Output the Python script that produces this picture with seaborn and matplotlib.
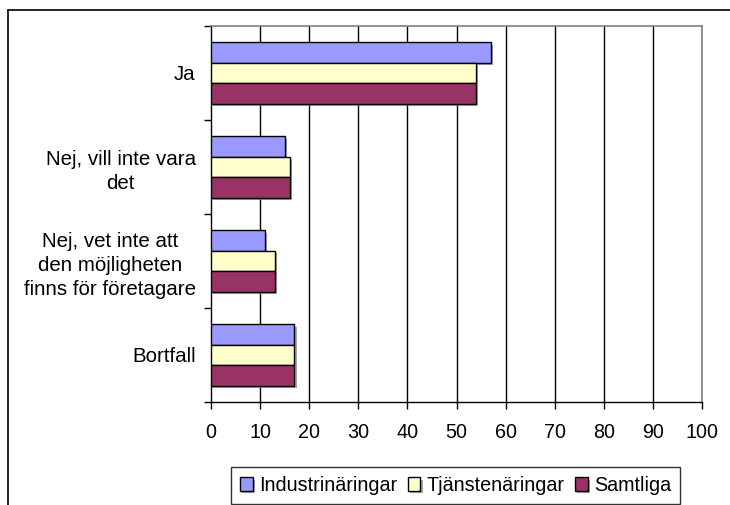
import numpy as np
import pandas as pd
import matplotlib
matplotlib.use("Agg")
import matplotlib.pyplot as plt
import matplotlib.patheffects as pe
from matplotlib.lines import Line2D
from matplotlib.ticker import FixedLocator
import seaborn as sns

categories = ["Ja", "Nej, vill inte vara\ndet",
              "Nej, vet inte att\nden möjligheten\nfinns för företagare", "Bortfall"]
series = ["Industrinäringar", "Tjänstenäringar", "Samtliga"]
industri = [57, 15, 11, 17]
tjanste = [54, 16, 13, 17]
samtliga = [54, 16, 13, 17]
colors = ["#9999FF", "#FFFFCC", "#993366"]
x_ticks = [0, 10, 20, 30, 40, 50, 60, 70, 80, 90, 100]

df = pd.DataFrame({
    "cat": categories * 3,
    "serie": [series[0]] * 4 + [series[1]] * 4 + [series[2]] * 4,
    "val": industri + tjanste + samtliga,
})

sns.set_theme(style="white")
plt.rcParams["font.family"] = ["Liberation Sans", "DejaVu Sans"]

FS = 14.2
FSY = 14.8

fig = plt.figure(figsize=(7.3, 5.05), dpi=100)
ax = fig.add_axes([211 / 730, 1 - 402 / 505, (702 - 211) / 730, (402 - 26) / 505])

sns.barplot(data=df, y="cat", x="val", hue="serie", order=categories,
            hue_order=series, palette=colors, orient="h", width=0.65,
            edgecolor="black", linewidth=1.0, saturation=1, ax=ax, legend=True,
            zorder=3)

for p in ax.patches:
    p.set_path_effects([pe.SimplePatchShadow(offset=(1.5, -1.5), shadow_rgbFace="#808080", alpha=0.7),
                        pe.Normal()])

ax.set_xlim(0, 100)
ax.set_ylim(3.5, -0.5)
ax.set_xticks(x_ticks)
ax.set_xticklabels([str(t) for t in x_ticks])
ax.set_xlabel("")
ax.set_ylabel("")
ax.grid(False)
for t in x_ticks[1:-1]:
    ax.axvline(t, color="black", lw=1.0, zorder=1)

for s in ["top", "right"]:
    ax.spines[s].set_color("#808080")
    ax.spines[s].set_linewidth(1.2)
for s in ["left", "bottom"]:
    ax.spines[s].set_color("black")
    ax.spines[s].set_linewidth(1.0)

ax.tick_params(axis="x", which="major", direction="out", length=5, width=1,
               color="black", labelsize=FS, pad=10, bottom=True)
ax.tick_params(axis="y", which="major", length=0, labelsize=FSY, pad=11, left=True)
ax.yaxis.set_minor_locator(FixedLocator([-0.5, 0.5, 1.5, 2.5, 3.5]))
ax.tick_params(axis="y", which="minor", direction="out", length=5, width=1,
               color="black", left=True)
for lbl in ax.get_yticklabels():
    lbl.set_multialignment("center")
    lbl.set_linespacing(1.32)
    lbl.set_color("black")
for lbl in ax.get_xticklabels():
    lbl.set_color("black")

h, l = ax.get_legend_handles_labels()
ax.get_legend().remove()
leg = fig.legend(h, l, loc="center", bbox_to_anchor=(455.5 / 730, 1 - 485.5 / 505),
                 ncol=3, frameon=True, fancybox=False, shadow=False,
                 fontsize=FS, handlelength=0.65, handleheight=0.65,
                 handletextpad=0.3, columnspacing=0.55, borderpad=0.45,
                 borderaxespad=0)
leg.get_frame().set_edgecolor("black")
leg.get_frame().set_linewidth(1.0)
for t in leg.get_texts():
    t.set_color("black")

fig.add_artist(Line2D([8 / 730, 8 / 730], [0, 1 - 10 / 505], color="black", lw=1.2,
                      transform=fig.transFigure))
fig.add_artist(Line2D([8 / 730, 1], [1 - 10 / 505, 1 - 10 / 505], color="black", lw=1.2,
                      transform=fig.transFigure))

fig.savefig("out.png", dpi=100)
